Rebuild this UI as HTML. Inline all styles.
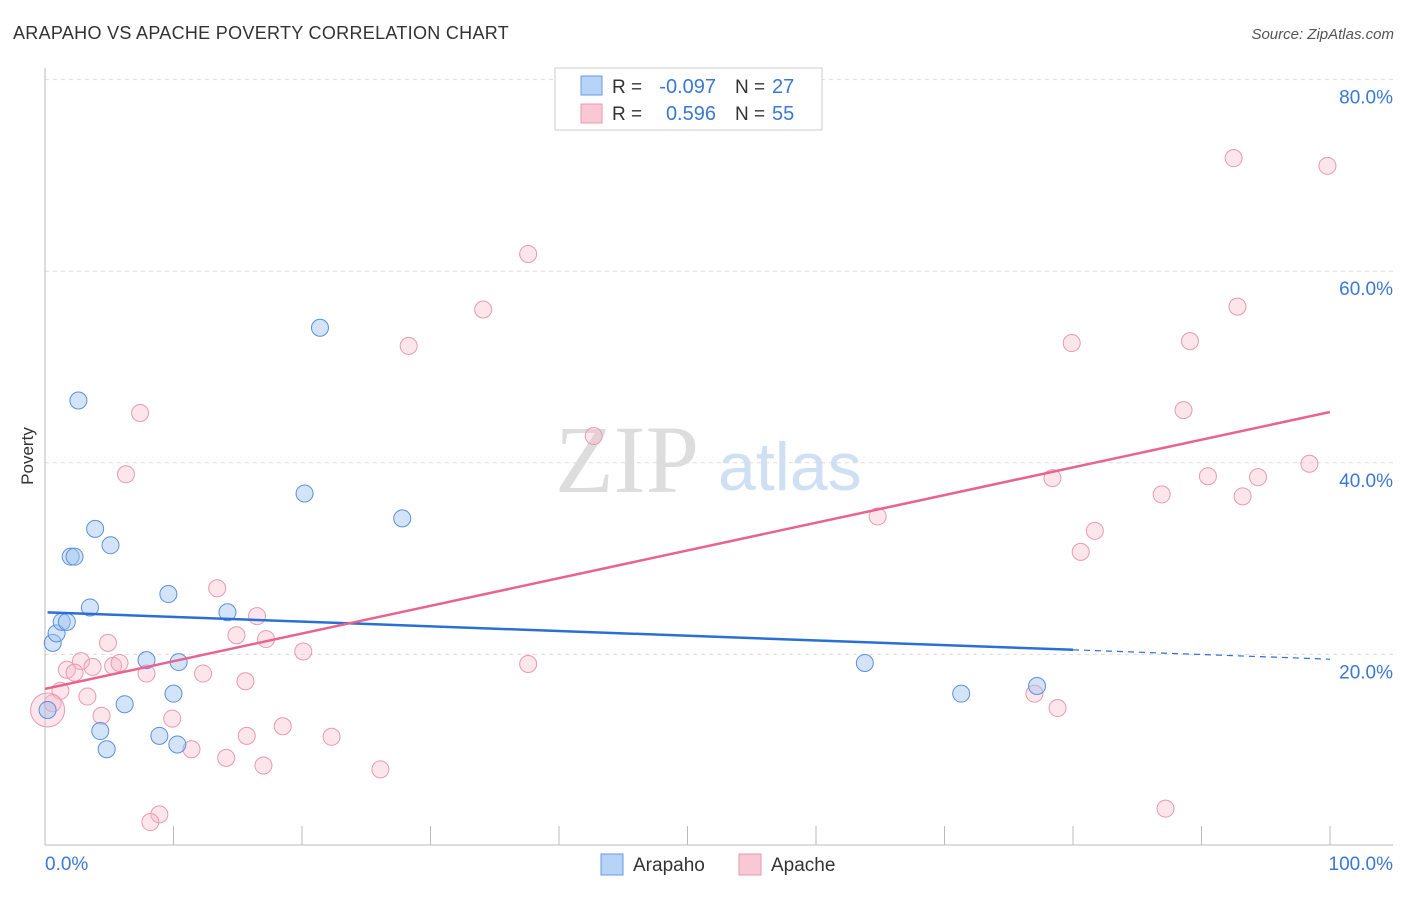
<!DOCTYPE html>
<html><head><meta charset="utf-8"><style>
body{margin:0;background:#fff;font-family:"Liberation Sans",sans-serif;}
</style></head><body>
<svg id="chart" width="1406" height="892" xmlns="http://www.w3.org/2000/svg">
<text x="13" y="39" font-size="18" fill="#333" letter-spacing="0.3">ARAPAHO VS APACHE POVERTY CORRELATION CHART</text>
<text x="1394" y="39" font-size="15" fill="#555" font-style="italic" text-anchor="end">Source: ZipAtlas.com</text>
<text x="555" y="492" font-size="96" fill="#ddd" font-family="Liberation Serif,serif">ZIP</text>
<text x="718" y="490" font-size="68" fill="#cfe0f5">atlas</text>
<g id="grid"></g>
<g id="axes"></g>
<g id="marks"></g>
<text transform="translate(33,456) rotate(-90)" font-size="17" fill="#333" text-anchor="middle">Poverty</text>
<g>
<rect x="555" y="68" width="267" height="62" fill="#fff" stroke="#ccc"/>
<rect x="581" y="76" width="21" height="19" fill="#b7d3f5" stroke="#6a9be0"/>
<rect x="581" y="104" width="21" height="19" fill="#f9c8d6" stroke="#e89ab2"/>
<text x="612" y="93" font-size="19" fill="#333">R =</text>
<text x="716" y="93" font-size="20" fill="#3a78d6" text-anchor="end">-0.097</text>
<text x="735" y="93" font-size="19" fill="#333">N =</text>
<text x="772" y="93" font-size="20" fill="#3a78d6">27</text>
<text x="612" y="120" font-size="19" fill="#333">R =</text>
<text x="716" y="120" font-size="20" fill="#3a78d6" text-anchor="end">0.596</text>
<text x="735" y="120" font-size="19" fill="#333">N =</text>
<text x="772" y="120" font-size="20" fill="#3a78d6">55</text>
</g>
<g>
<rect x="601" y="854" width="22" height="21" fill="#b7d3f5" stroke="#6a9be0"/>
<text x="633" y="871" font-size="19" fill="#333">Arapaho</text>
<rect x="739" y="854" width="22" height="21" fill="#f9c8d6" stroke="#e89ab2"/>
<text x="771" y="871" font-size="19" fill="#333">Apache</text>
</g>
</svg>
<script>
const yTicks=[20,40,60,80];
const yTickLabels=["20.0%","40.0%","60.0%","80.0%"];
const xTickVals=[0,10,20,30,40,50,60,70,80,90,100];
const xEdgeLabels=["0.0%","100.0%"];
const arapahoX=[0.2,0.6,0.9,1.3,1.7,2.0,2.3,2.6,3.5,3.9,4.3,4.8,5.1,6.2,7.9,8.9,9.6,10.0,10.3,10.4,14.2,20.2,21.4,27.8,63.8,71.3,77.2];
const arapahoY=[14.2,21.2,22.2,23.4,23.4,30.2,30.2,46.5,24.9,33.1,12.0,10.1,31.4,14.8,19.4,11.5,26.3,15.9,10.6,19.2,24.4,36.8,54.1,34.2,19.1,15.9,16.7];
const apacheX=[13.4,16.5,14.9,17.2,20.1,4.9,2.8,1.7,2.3,3.7,5.3,5.8,7.9,12.3,15.6,1.2,3.3,0.6,0.2,4.4,9.9,18.5,15.7,22.3,11.4,14.1,17.0,26.1,8.9,8.2,7.4,6.3,28.3,34.1,37.6,42.7,37.6,64.8,78.4,79.9,80.6,81.7,77.0,78.8,86.9,87.2,88.6,89.1,90.5,92.5,92.8,93.2,94.4,98.4,99.8];
const apacheY=[26.9,24.0,22.0,21.6,20.3,21.2,19.3,18.4,18.1,18.7,18.8,19.1,18.0,18.0,17.2,16.2,15.6,14.9,14.2,13.6,13.3,12.5,11.5,11.4,10.1,9.2,8.4,8.0,3.3,2.5,45.2,38.8,52.2,56.0,61.8,42.8,19.0,34.4,38.4,52.5,30.7,32.9,15.9,14.4,36.7,3.9,45.5,52.7,38.6,71.8,56.3,36.5,38.5,39.9,71.0];
const arapahoTrend=[24.4,-0.049];
const apacheTrend=[16.4,0.289];
const NS="http://www.w3.org/2000/svg";
const X=v=>45+v*12.85, Y=v=>846-v*9.58;
function mk(t,a,p){const e=document.createElementNS(NS,t);for(const k in a)e.setAttribute(k,a[k]);p.appendChild(e);return e;}
const grid=document.getElementById('grid'),axes=document.getElementById('axes'),marks=document.getElementById('marks');
yTicks.forEach((v,i)=>{
 const l=mk('line',{x1:45,x2:1393,y1:Y(v),y2:Y(v),stroke:'#ddd','stroke-dasharray':'4,4'},grid);
 
 
 const t=mk('text',{x:1393,y:Y(v)+24,'font-size':19,fill:'#3a78d6','text-anchor':'end'},axes);
 t.textContent=yTickLabels[i];
 
 
});
mk('line',{x1:45,x2:45,y1:68,y2:845,stroke:'#bbb'},axes);
mk('line',{x1:45,x2:1393,y1:845,y2:845,stroke:'#bbb'},axes);
xTickVals.forEach(v=>{const l=mk('line',{x1:X(v),x2:X(v),y1:826,y2:845,stroke:'#bbb'},axes);
 
 });
const xl0=mk('text',{x:45,y:870,'font-size':19,fill:'#3a78d6'},axes);xl0.textContent=xEdgeLabels[0];


const xl1=mk('text',{x:1393,y:870,'font-size':19,fill:'#3a78d6','text-anchor':'end'},axes);xl1.textContent=xEdgeLabels[1];


apacheX.forEach((x,i)=>{const c=mk('circle',{cx:X(x),cy:Y(apacheY[i]),r:(i==18?17:8.5),fill:'rgba(248,180,200,0.35)',stroke:'#e89ab2','stroke-width':1},marks);
 
 });
arapahoX.forEach((x,i)=>{const c=mk('circle',{cx:X(x),cy:Y(arapahoY[i]),r:8.5,fill:'rgba(160,196,240,0.45)',stroke:'#5b90dc','stroke-width':1},marks);
 
 });
const bt=mk('line',{x1:X(0.2),y1:Y(arapahoTrend[0]+arapahoTrend[1]*0.2),x2:X(80),y2:Y(arapahoTrend[0]+arapahoTrend[1]*80),stroke:'#2a6fd6','stroke-width':2.5},marks);


const bd=mk('line',{x1:X(80),y1:Y(arapahoTrend[0]+arapahoTrend[1]*80),x2:X(100),y2:Y(arapahoTrend[0]+arapahoTrend[1]*100),stroke:'#2a6fd6','stroke-width':1.2,'stroke-dasharray':'6,5'},marks);


const pt=mk('line',{x1:X(0),y1:Y(apacheTrend[0]),x2:X(100),y2:Y(apacheTrend[0]+apacheTrend[1]*100),stroke:'#e8648f','stroke-width':2.5},marks);


</script>
</body></html>
